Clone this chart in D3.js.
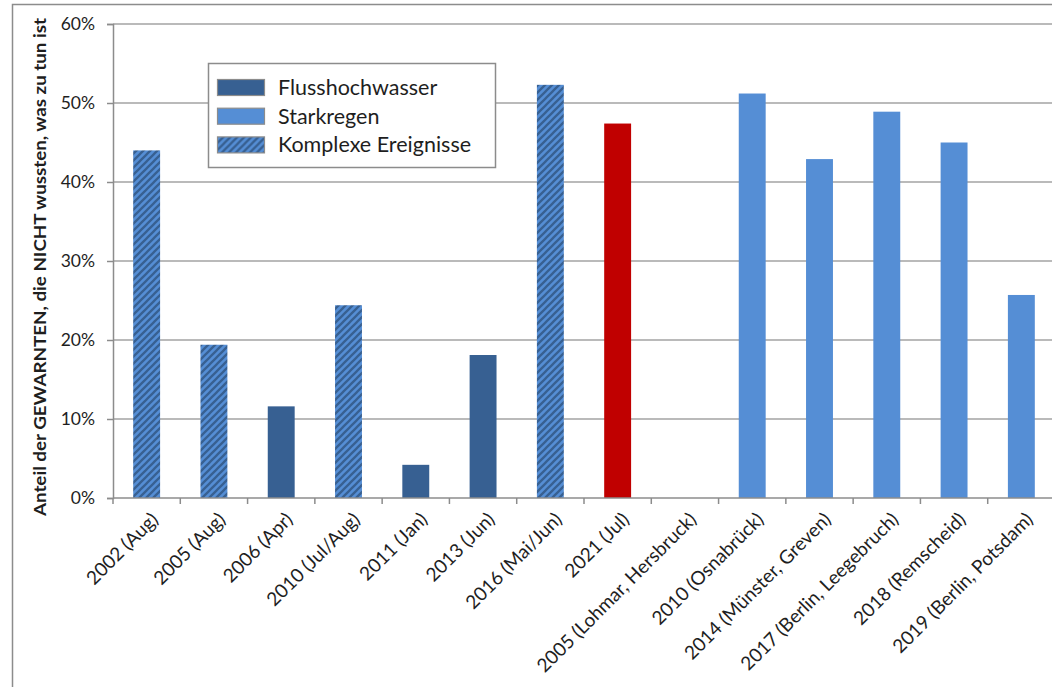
<!DOCTYPE html>
<html>
<head>
<meta charset="utf-8">
<script src="https://cdn.jsdelivr.net/npm/d3@7"></script>
<style>
  html, body { margin: 0; padding: 0; background: #fff; }
  svg { display: block; }
  text { font-family: Lato, "Open Sans", sans-serif; fill: #1e1e1e; }
</style>
</head>
<body>
<svg id="chart" width="1052" height="687"></svg>
<script>
// Events (x categories)
const categories = [
  "2002 (Aug)", "2005 (Aug)", "2006 (Apr)", "2010 (Jul/Aug)", "2011 (Jan)",
  "2013 (Jun)", "2016 (Mai/Jun)", "2021 (Jul)", "2005 (Lohmar, Hersbruck)",
  "2010 (Osnabrück)", "2014 (Münster, Greven)", "2017 (Berlin, Leegebruch)",
  "2018 (Remscheid)", "2019 (Berlin, Potsdam)"
];
// Share of warned people who did NOT know what to do (fraction)
const values = [
  0.440, 0.194, 0.116, 0.244, 0.042,
  0.181, 0.523, 0.474, null,
  0.512, 0.429, 0.489, 0.450, 0.257
];
// Event type per category
const types = [
  "komplex", "komplex", "fluss", "komplex", "fluss",
  "fluss", "komplex", "highlight", "stark",
  "stark", "stark", "stark", "stark", "stark"
];
const yTicks = [0, 0.1, 0.2, 0.3, 0.4, 0.5, 0.6];
const legendKeys = ["fluss", "stark", "komplex"];
const legendLabels = ["Flusshochwasser", "Starkregen", "Komplexe Ereignisse"];
const yTitle = "Anteil der GEWARNTEN, die NICHT wussten, was zu tun ist";

const svg = d3.select("#chart");
const W = 1052, H = 687;
const plotLeft = 113, plotRight = 1055, plotTop = 24, plotBottom = 498;

const colFluss = "#376092", colStark = "#558ed5", colRed = "#c00000";
const fillFor = t => t === "fluss" ? colFluss : t === "stark" ? colStark :
                    t === "komplex" ? "url(#hatch)" : colRed;

// Diagonal hatch for combined events
const defs = svg.append("defs");
const pat = defs.append("pattern")
  .attr("id", "hatch").attr("patternUnits", "userSpaceOnUse")
  .attr("width", 7).attr("height", 7);
pat.append("rect").attr("width", 7).attr("height", 7).attr("fill", colStark);
pat.append("path")
  .attr("d", "M-1.75,1.75 L1.75,-1.75 M0,7 L7,0 M5.25,8.75 L8.75,5.25")
  .attr("stroke", colFluss).attr("stroke-width", 2.3);

// Outer frame
svg.append("rect")
  .attr("x", 12.5).attr("y", 4.5).attr("width", W + 20).attr("height", H + 20)
  .attr("fill", "none").attr("stroke", "#8c8c8c").attr("stroke-width", 1.5);

const x = d3.scaleBand().domain(categories).range([plotLeft, plotRight])
  .paddingInner(0.6).paddingOuter(0.3);
const xTick = d3.scaleBand().domain(categories).range([plotLeft, plotRight]);
const y = d3.scaleLinear().domain([0, 0.6]).range([plotBottom, plotTop]);

// Gridlines
svg.append("g").selectAll("line").data(yTicks.filter(d => d > 0)).join("line")
  .attr("x1", plotLeft).attr("x2", W)
  .attr("y1", d => y(d)).attr("y2", d => y(d))
  .attr("stroke", "#a3a3a3").attr("stroke-width", 1.5);

// Bars
svg.append("g").selectAll("rect")
  .data(categories.map((c, i) => ({ c, v: values[i], t: types[i] })).filter(d => d.v != null))
  .join("rect")
  .attr("x", d => x(d.c)).attr("width", x.bandwidth())
  .attr("y", d => y(d.v)).attr("height", d => y(0) - y(d.v))
  .attr("fill", d => fillFor(d.t));

// Y axis
const yAxis = svg.append("g").attr("transform", `translate(${plotLeft},0)`)
  .call(d3.axisLeft(y).tickValues(yTicks).tickFormat(d3.format(".0%"))
    .tickSize(6).tickPadding(12));
yAxis.select(".domain").attr("stroke", "#8c8c8c").attr("stroke-width", 1.5);
yAxis.selectAll(".tick line").attr("stroke", "#8c8c8c").attr("stroke-width", 1.5);
yAxis.selectAll(".tick text").attr("font-size", 17.5).attr("fill", "#1e1e1e")
  .attr("font-family", "Lato, sans-serif");

// X axis line and ticks at category boundaries
svg.append("line").attr("x1", plotLeft).attr("x2", W).attr("y1", plotBottom).attr("y2", plotBottom)
  .attr("stroke", "#8c8c8c").attr("stroke-width", 1.5);
svg.append("g").selectAll("line").data(categories).join("line")
  .attr("x1", d => xTick(d)).attr("x2", d => xTick(d))
  .attr("y1", plotBottom).attr("y2", plotBottom + 6)
  .attr("stroke", "#8c8c8c").attr("stroke-width", 1.5);

// X labels rotated
svg.append("g").selectAll("text").data(categories).join("text")
  .attr("transform", d => `translate(${x(d) + x.bandwidth() / 2 + 8},${plotBottom + 18}) rotate(-45)`)
  .attr("text-anchor", "end").attr("dy", "0.35em")
  .attr("font-size", 19)
  .text(d => d);

// Y title
svg.append("text")
  .attr("transform", `translate(46,${(17 + 517) / 2}) rotate(-90)`)
  .attr("text-anchor", "middle")
  .attr("font-size", 17).attr("font-weight", "bold")
  .attr("textLength", 498).attr("lengthAdjust", "spacingAndGlyphs")
  .text(yTitle);

// Legend
const lg = svg.append("g");
lg.append("rect").attr("x", 208.5).attr("y", 63.5).attr("width", 287).attr("height", 104)
  .attr("fill", "#fff").attr("stroke", "#8c8c8c").attr("stroke-width", 1.5);
const rows = lg.selectAll("g.row").data(legendKeys).join("g")
  .attr("class", "row")
  .attr("transform", (d, i) => `translate(0,${79 + i * 28.7})`);
rows.append("rect").attr("x", 217.5).attr("y", 0.5).attr("width", 47).attr("height", 16)
  .attr("fill", d => fillFor(d)).attr("stroke", "#8c8c8c").attr("stroke-width", 1.2);
rows.append("text").attr("x", 278).attr("y", 8.5).attr("dy", "0.35em")
  .attr("font-size", 21.5)
  .text((d, i) => legendLabels[i]);
</script>
</body>
</html>
